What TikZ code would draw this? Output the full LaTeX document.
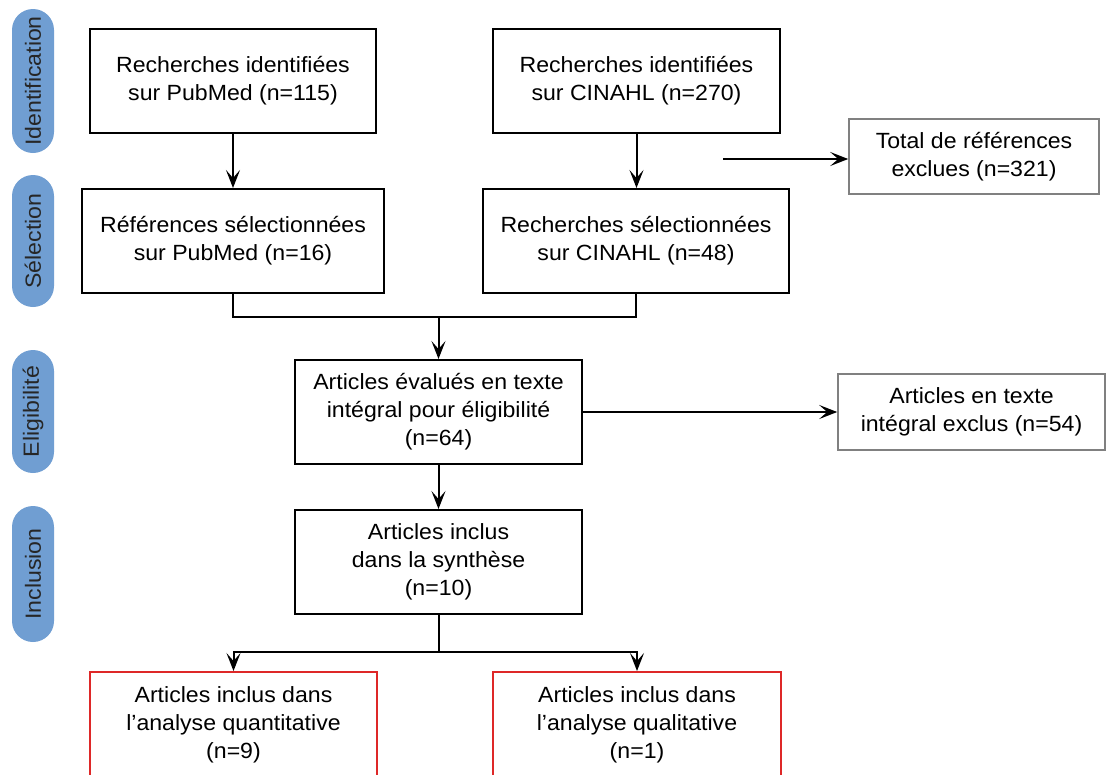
\documentclass[tikz,border=0pt]{standalone}
\usepackage{fontspec}
\setmainfont[FakeStretch=1.05]{Liberation Sans}
\usetikzlibrary{arrows.meta}
\definecolor{pillblue}{RGB}{112,158,210}
\definecolor{exgray}{RGB}{128,128,128}
\definecolor{incred}{RGB}{222,40,40}
\begin{document}
\begin{tikzpicture}[x=1pt,y=-1pt,
  txt/.style={font=\fontsize{22}{28}\selectfont, align=center, inner sep=0pt},
  box/.style={txt, draw=black, line width=2pt},
  exbox/.style={txt, draw=exgray, line width=1.6pt},
  redbox/.style={txt, draw=incred, line width=2pt},
  pill/.style={txt, font=\fontsize{22}{28}\selectfont, fill=pillblue, rounded corners=21pt, rotate=90, minimum height=42pt, text=black!85},
  conn/.style={line width=2pt},
  arr/.style={conn, -{Stealth[length=18pt,width=14pt,inset=8pt]}}]
\clip (0,0) rectangle (1107,774);
\fill[white] (0,0) rectangle (1107,774);
% phase labels
\node[pill, minimum width=144pt] (pid) at (33,81) {Identification};
\node[pill, minimum width=132pt] (psel) at (33,241) {Sélection};
\node[pill, minimum width=123pt] (pelig) at (33,411.5) {Eligibilité};
\node[pill, minimum width=136pt] (pincl) at (33,574) {Inclusion};
% boxes
\node[box, minimum width=286pt, minimum height=104pt] (A) at (233,81) {Recherches identifiées\\sur PubMed (n=115)};
\node[box, minimum width=287pt, minimum height=104pt] (C) at (636.5,81) {Recherches identifiées\\sur CINAHL (n=270)};
\node[box, minimum width=302pt, minimum height=104pt] (B) at (233,241) {Références sélectionnées\\sur PubMed (n=16)};
\node[box, minimum width=306pt, minimum height=104pt] (D) at (636,241) {Recherches sélectionnées\\sur CINAHL (n=48)};
\node[exbox, minimum width=250pt, minimum height=75pt] (X1) at (974,156.5) {Total de références\\exclues (n=321)};
\node[box, minimum width=287pt, minimum height=104pt] (E) at (438.5,412) {Articles évalués en texte\\intégral pour éligibilité\\(n=64)};
\node[exbox, minimum width=267pt, minimum height=76pt] (X2) at (971.5,412) {Articles en texte\\intégral exclus (n=54)};
\node[box, minimum width=287pt, minimum height=104pt] (F) at (438.5,562) {Articles inclus\\dans la synthèse\\(n=10)};
\node[redbox, minimum width=287pt, minimum height=106pt] (G1) at (233.5,725) {Articles inclus dans\\l’analyse quantitative\\(n=9)};
\node[redbox, minimum width=288pt, minimum height=106pt] (G2) at (637,725) {Articles inclus dans\\l’analyse qualitative\\(n=1)};
% connectors
\coordinate (m) at (438.5,317);
\coordinate (x1s) at (723,159);
\coordinate (s) at (438.5,652);
\draw[arr] (A.south) -- (B.north);
\draw[arr] (C.south) -- (C.south |- D.north);
\draw[conn] (B.south) |- (m) -| (D.south);
\draw[arr] (m) -- (E.north);
\draw[arr] (x1s) -- (x1s -| X1.west);
\draw[arr] (E.east) -- (X2.west);
\draw[arr] (E.south) -- (F.north);
\draw[arr] (F.south) -- (s) -| (G1.north);
\draw[arr] (s) -| (G2.north);
\end{tikzpicture}
\end{document}
